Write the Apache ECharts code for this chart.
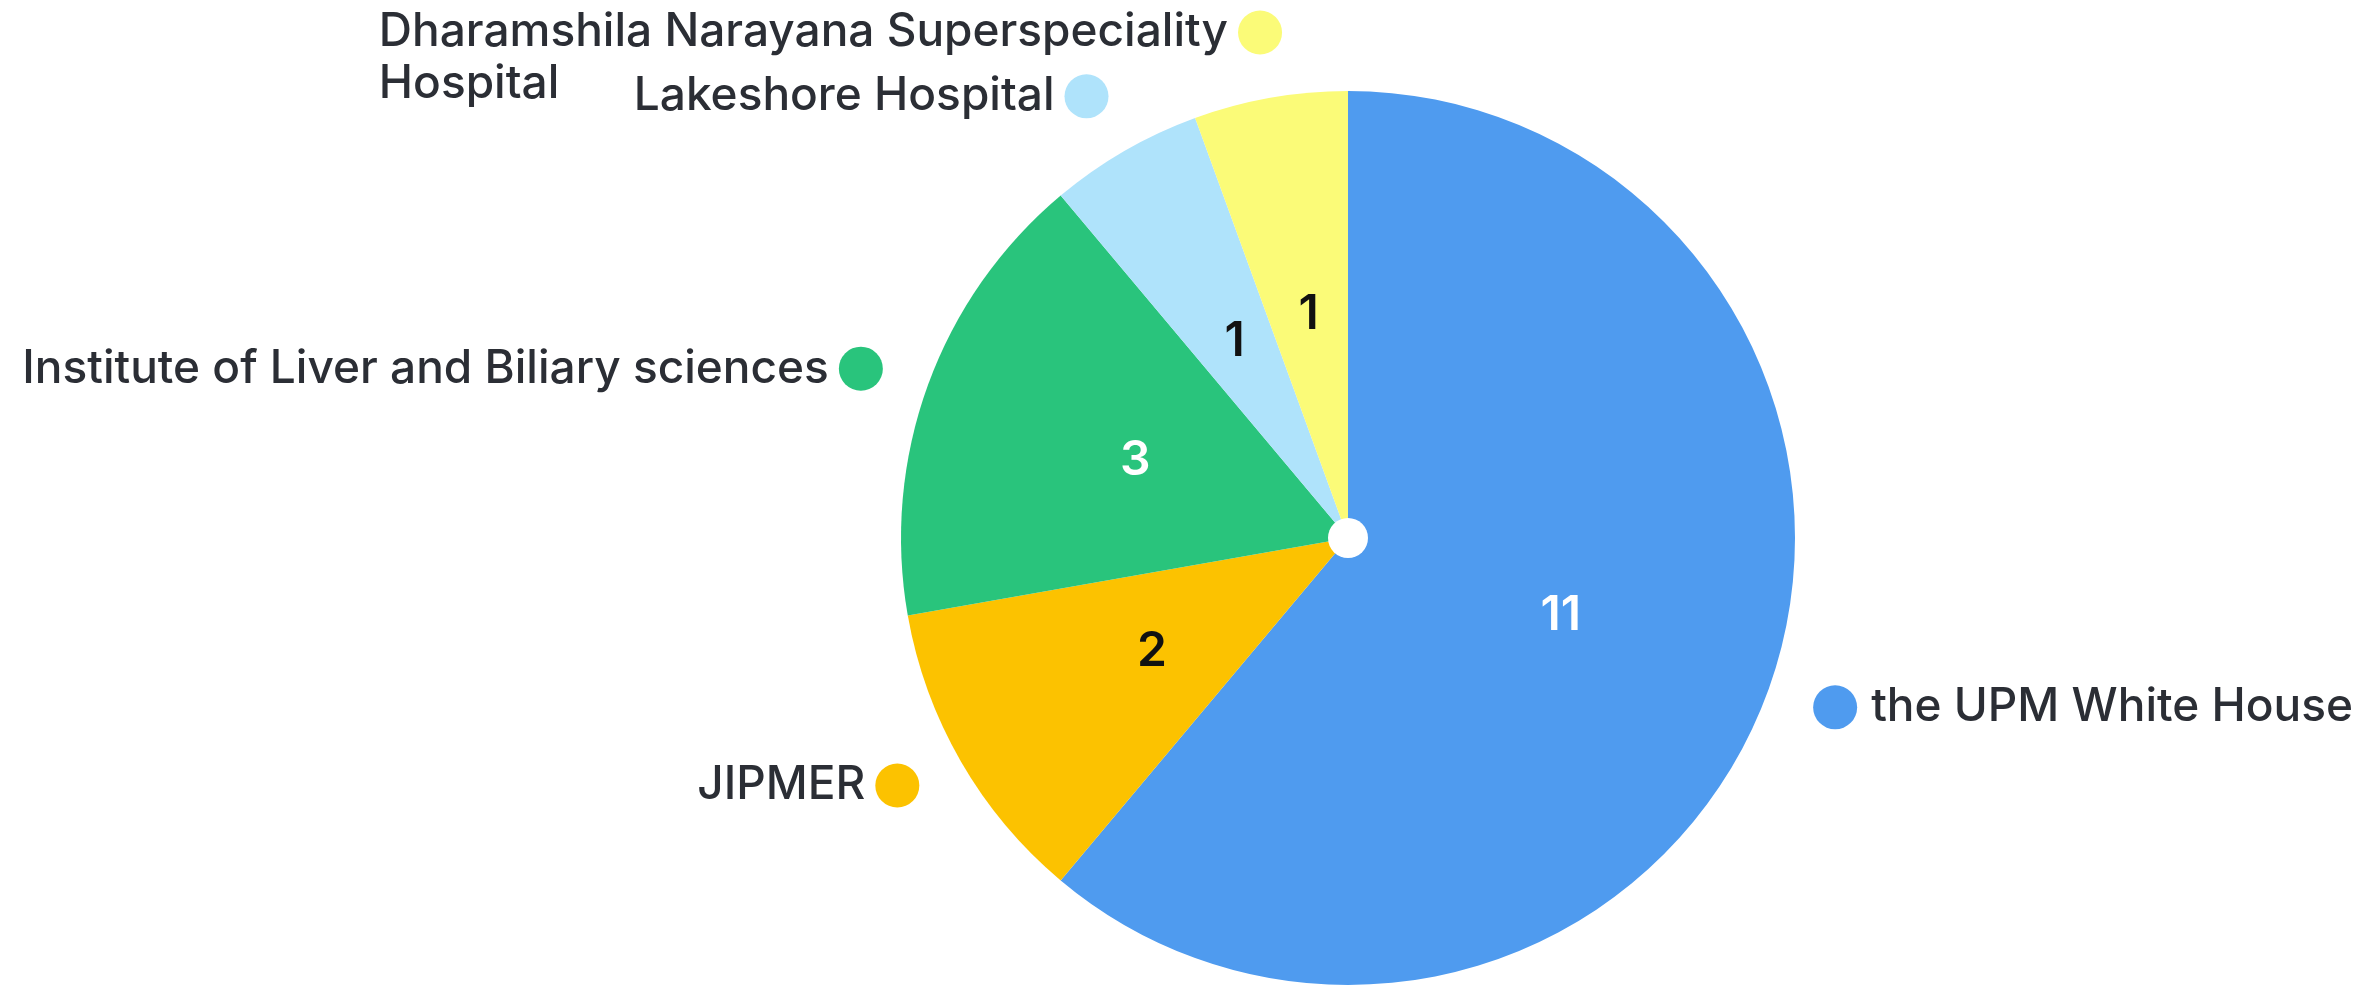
<!DOCTYPE html>
<html>
<head>
<meta charset="utf-8">
<script src="https://cdn.jsdelivr.net/npm/echarts@6/dist/echarts.min.js"></script>
<style>
  html, body { margin: 0; padding: 0; background: #ffffff; }
  #chart { width: 2374px; height: 989px; }
</style>
</head>
<body>
<div id="chart"></div>
<script>
// hospitals, clockwise from 12 o'clock
const names = [
  'the UPM White House',
  'JIPMER',
  'Institute of Liver and Biliary sciences',
  'Lakeshore Hospital',
  'Dharamshila Narayana Superspeciality\nHospital'
];
const counts = [11, 2, 3, 1, 1];
const colors = ['#4f9bef', '#fcc200', '#29c47c', '#afe3fb', '#fbfb78'];
const valueColors = ['#ffffff', '#111111', '#ffffff', '#111111', '#111111'];

const chart = echarts.init(document.getElementById('chart'));

// one rich style per dot colour
const rich = {
  n: { fontFamily: 'Inter', fontSize: 46, fontWeight: 500, color: '#2b2e35', lineHeight: 52 },
  h: { fontFamily: 'Inter', fontSize: 46, fontWeight: 500, color: '#2b2e35', lineHeight: 52, align: 'left' },
  gap: { width: 10 },
  gapR: { width: 14 }
};
colors.forEach(function (c, i) {
  rich['d' + i] = { backgroundColor: c, width: 44, height: 44, borderRadius: 22 };
});

function outerLabel(p) {
  const i = p.dataIndex;
  const parts = p.name.split('\n');
  if (i === 0) {
    return '{d0|}{gapR|}{n|' + parts[0] + '}';
  }
  let s = '{n|' + parts[0] + '}{gap|}{d' + i + '|}';
  if (parts.length > 1) s += '\n{h|' + parts[1] + '}';
  return s;
}

const data = names.map(function (n, i) {
  return { name: n, value: counts[i], itemStyle: { color: colors[i] } };
});

const option = {
  backgroundColor: '#ffffff',
  animation: false,
  series: [
    {
      // slices + counts inside
      type: 'pie',
      center: [1348, 538],
      radius: 447,
      startAngle: 90,
      clockwise: true,
      avoidLabelOverlap: false,
      data: data.map(function (d, i) {
        return Object.assign({}, d, {
          label: { color: valueColors[i] }
        });
      }),
      label: {
        show: true,
        position: 'inside',
        formatter: '{c}',
        fontFamily: 'Inter',
        fontSize: 48,
        fontWeight: 600
      },
      labelLine: { show: false },
      emphasis: { disabled: true },
      z: 2
    },
    {
      // names outside with coloured dots
      type: 'pie',
      center: [1348, 538],
      radius: 447,
      startAngle: 90,
      clockwise: true,
      avoidLabelOverlap: false,
      silent: true,
      labelLayout: { hideOverlap: false },
      data: data.map(function (d, i) {
        const item = {
          name: d.name, value: d.value,
          itemStyle: { color: 'transparent' }
        };
        if (i === 3) {
          item.label = { padding: [0, 0, 26, 0] };
          item.labelLine = { length2: -8 };
        }
        if (i === 4) {
          item.label = { padding: [16, 0, 0, 0] };
          item.labelLine = { length2: -20 };
        }
        return item;
      }),
      label: {
        show: true,
        position: 'outside',
        formatter: outerLabel,
        rich: rich,
        distanceToLabelLine: 0
      },
      labelLine: { show: false, length: 48, length2: 0 },
      z: 3
    },
    {
      // white hub
      type: 'pie',
      center: [1348, 538],
      radius: 20,
      silent: true,
      label: { show: false },
      labelLine: { show: false },
      data: [{ value: 1, itemStyle: { color: '#ffffff' } }],
      z: 4
    }
  ]
};

chart.setOption(option);
</script>
</body>
</html>
